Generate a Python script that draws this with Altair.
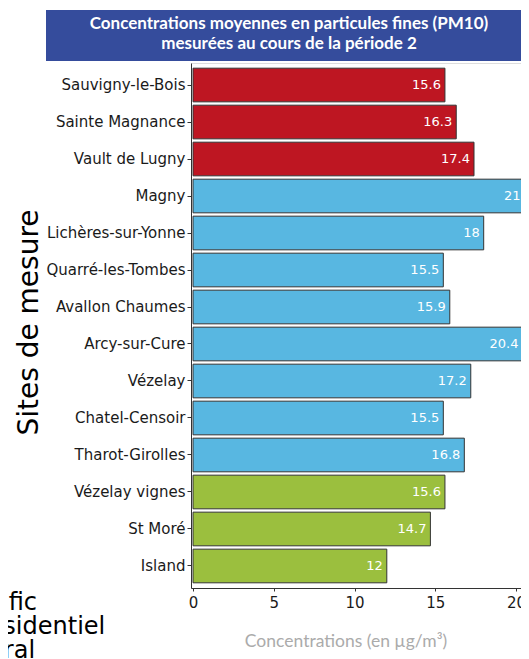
import altair as alt
import pandas as pd

sites = ["Sauvigny-le-Bois", "Sainte Magnance", "Vault de Lugny", "Magny",
         "Lichères-sur-Yonne", "Quarré-les-Tombes", "Avallon Chaumes",
         "Arcy-sur-Cure", "Vézelay", "Chatel-Censoir", "Tharot-Girolles",
         "Vézelay vignes", "St Moré", "Island"]
values = [15.6, 16.3, 17.4, 21.3, 18, 15.5, 15.9, 20.4, 17.2, 15.5, 16.8, 15.6, 14.7, 12]
types = ["Trafic"] * 3 + ["Résidentiel"] * 8 + ["Rural"] * 3
type_order = ["Trafic", "Résidentiel", "Rural"]
type_colors = ["#BE1622", "#58B7E1", "#9BBF3E"]
x_ticks = [0, 5, 10, 15, 20]
title_lines = ["Concentrations moyennes en particules fines (PM10)",
               "mesurées au cours de la période 2"]

df = pd.DataFrame({
    "site": sites,
    "value": values,
    "type": types,
    "label": [f"{v:g}" for v in values],
})

W, H = 330, 525

y_enc = alt.Y("site:N", sort=sites,
              scale=alt.Scale(paddingInner=0.09, paddingOuter=0.14),
              axis=alt.Axis(title="Sites de mesure", titleFontSize=28,
                            titleFont="DejaVu Sans", titleFontWeight="normal",
                            titleColor="#000000", titleAngle=270,
                            titleAlign="center", titleBaseline="alphabetic",
                            titleX=-154, titleY=259,
                            labelFont="DejaVu Sans", labelFontSize=15,
                            labelColor="#1a1a1a", labelPadding=2,
                            tickSize=4, tickColor="#333333",
                            domainColor="#333333", grid=False))
x_enc = alt.X("value:Q",
              scale=alt.Scale(domain=[-0.125, 20.31], nice=False, zero=False),
              axis=alt.Axis(values=x_ticks, title="Concentrations (en µg/m³)",
                            titleFont="Lato", titleFontSize=17.5,
                            titleFontWeight="normal", titleColor="#ABABAB",
                            titleX=154.5, titleY=58, titleAlign="center",
                            titleBaseline="alphabetic",
                            labelFont="DejaVu Sans", labelFontSize=15,
                            labelColor="#1a1a1a", labelPadding=4,
                            tickSize=3, tickColor="#333333",
                            domainColor="#333333", grid=False))

bars = alt.Chart(df).mark_bar(stroke="#333333", strokeWidth=1, clip=True).encode(
    y=y_enc,
    x=x_enc,
    color=alt.Color("type:N",
                    scale=alt.Scale(domain=type_order, range=type_colors),
                    legend=alt.Legend(title=None, orient="none",
                                      legendX=-247, legendY=528,
                                      labelFont="DejaVu Sans", labelFontSize=24,
                                      labelColor="#000000", labelLimit=400,
                                      symbolType="square", symbolSize=300,
                                      labelOffset=5, rowPadding=-3, padding=0)),
)

labels = alt.Chart(df).mark_text(align="right", baseline="middle", dx=-4,
                                 color="white", fontSize=13,
                                 font="DejaVu Sans", clip=True).encode(
    y=alt.Y("site:N", sort=sites),
    x=alt.X("value:Q"),
    text="label:N",
)

banner_df = pd.DataFrame({"t": ["\n".join(title_lines)]})
banner = alt.Chart(banner_df).mark_rect(color="#354C9C").encode(
    x=alt.value(-145), x2=alt.value(345), y=alt.value(-53), y2=alt.value(-2)
)
banner_text = alt.Chart(banner_df).mark_text(
    color="white", font="Lato", fontWeight="bold", fontSize=17,
    align="center", baseline="middle", lineBreak="\n", lineHeight=20
).encode(x=alt.value(98), y=alt.value(-39), text="t:N")

chart = alt.layer(bars, labels, banner, banner_text).properties(
    width=W, height=H,
    autosize=alt.AutoSizeParams(type="none"),
    padding={"left": 183, "top": 55, "right": 0, "bottom": 71},
).configure_view(stroke=None).configure(background="white")

chart.save("out.html", embed_options={"renderer": "svg", "actions": False})
